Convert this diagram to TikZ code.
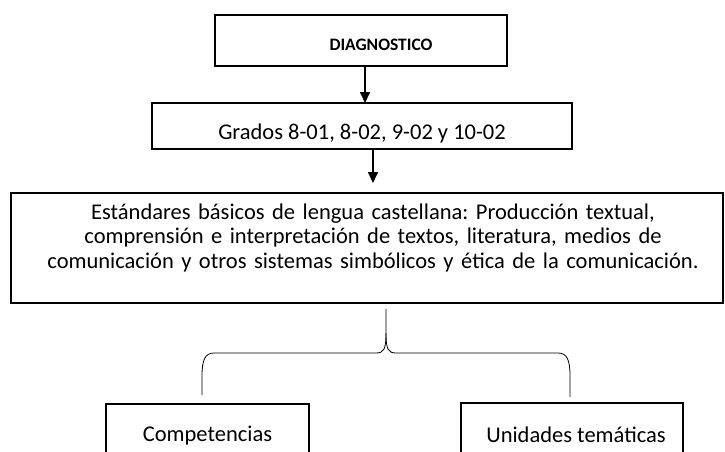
\documentclass[tikz,border=0pt]{standalone}
\usepackage{fontspec}
\setmainfont{Carlito}
\usetikzlibrary{arrows.meta}
\frenchspacing
\begin{document}
\begin{tikzpicture}[x=1pt,y=-1pt,
	caja/.style={draw,line width=1.6pt,anchor=north west,inner sep=0pt,outer sep=0pt,align=center,font=\fontsize{22.5}{24.5}\selectfont},
	flecha/.style={line width=1.6pt,-{Triangle[width=10pt,length=11pt]}}]
	\useasboundingbox (0,0) rectangle (725,452);
	\node[caja,minimum width=292pt,minimum height=51pt,text height=20pt,text depth=0pt,font=\bfseries\fontsize{17.5}{20}\selectfont] (diag) at (215,15) {\hspace*{40pt}DIAGNOSTICO};
	\node[caja,minimum width=420pt,minimum height=46pt,text height=26pt,text depth=0pt] (grados) at (152,103) {Grados 8-01, 8-02, 9-02 y 10-02};
	\node[caja,minimum width=712pt,minimum height=110pt,text width=700pt,text height=16pt,text depth=74pt] (estandares) at (11,193) {\hspace*{12pt}Estándares básicos de lengua castellana: Producción textual,\\\hspace*{12pt}comprensión e interpretación de textos, literatura, medios de\\\hspace*{12pt}comunicación y otros sistemas simbólicos y ética de la comunicación.};
	\node[caja,minimum width=203pt,minimum height=64pt] (comp) at (106,404) {Competencias};
	\node[caja,minimum width=222pt,minimum height=64pt] (unid) at (461,403) {\hspace*{8pt}Unidades temáticas};
	\draw[flecha] ([xshift=4pt]diag.south) -- ([xshift=4pt]diag.south |- grados.north);
	\draw[flecha] ([xshift=11pt]grados.south) -- ([xshift=11pt,yshift=10pt]grados.south |- estandares.north);
	% llave
	\coordinate (ll) at (386,309);
	\coordinate (lizq) at (202,395);
	\coordinate (lder) at (570,397);
	\draw[line width=0.8pt] (ll) -- (386,333) .. controls (386,349) and (384,353) .. (376,353) -- (214,353) .. controls (205,353) and (202,360) .. (202,376) -- (lizq);
	\draw[line width=0.8pt] (386,333) .. controls (386,349) and (388,353) .. (396,353) -- (558,353) .. controls (567,353) and (570,360) .. (570,376) -- (lder);
\end{tikzpicture}
\end{document}
